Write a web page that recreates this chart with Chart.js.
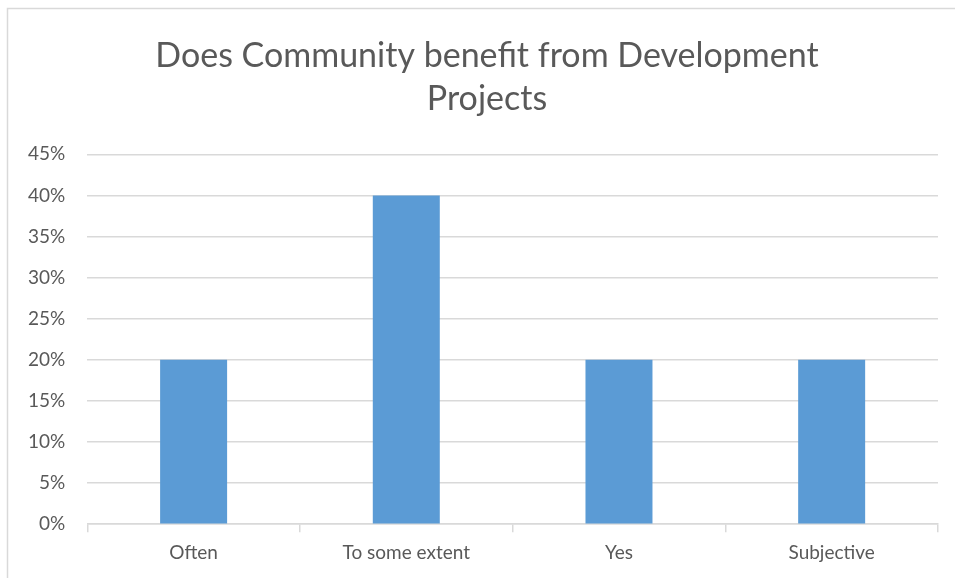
<!DOCTYPE html>
<html>
<head>
<meta charset="utf-8">
<script src="https://cdn.jsdelivr.net/npm/chart.js@4"></script>
<style>
  html, body { margin: 0; padding: 0; background: #fff; }
  #wrap { width: 955px; height: 578px; }
</style>
</head>
<body>
<div id="wrap"><canvas id="myChart" width="955" height="578"></canvas></div>
<script>
const categories = ["Often", "To some extent", "Yes", "Subjective"];
const values = [20, 40, 20, 20];
const titleLines = ["Does Community benefit from Development", "Projects"];
const yMax = 45;
const yStep = 5;

// light grey frame around the chart, like the office chart border
const frame = {
  id: 'frame',
  beforeDraw(chart) {
    const ctx = chart.ctx;
    ctx.save();
    ctx.strokeStyle = '#d9d9d9';
    ctx.lineWidth = 1.5;
    ctx.strokeRect(7.5, 8.5, 1000, 1000);
    ctx.restore();
  },
  // title sits a bit right of the canvas centre in the original
  afterLayout(chart) {
    if (chart.titleBlock) chart.titleBlock.left += 30;
  }
};

Chart.defaults.font.family = 'Lato, "Open Sans", sans-serif';
Chart.defaults.color = '#595959';

new Chart("myChart", {
  type: "bar",
  data: {
    labels: categories,
    datasets: [{
      data: values,
      backgroundColor: "#5b9bd5",
      barPercentage: 0.315,
      categoryPercentage: 1
    }]
  },
  options: {
    responsive: false,
    animation: false,
    layout: { padding: { left: 6, right: 17, top: 14, bottom: 5 } },
    plugins: {
      legend: { display: false },
      tooltip: { enabled: false },
      title: {
        display: true,
        text: titleLines,
        color: '#595959',
        font: { size: 34, weight: 'normal', lineHeight: 1.27 },
        padding: { top: 20, bottom: 34 }
      }
    },
    scales: {
      x: {
        grid: {
          offset: true,
          drawOnChartArea: false,
          drawTicks: true,
          tickLength: 8,
          color: '#d9d9d9',
          lineWidth: 1.5
        },
        border: { display: true, color: '#d9d9d9', width: 1.5 },
        ticks: { font: { size: 19 }, padding: 9, color: '#595959' }
      },
      y: {
        min: 0,
        max: yMax,
        grid: { color: '#d9d9d9', lineWidth: 1.5, drawTicks: false },
        border: { display: false },
        ticks: {
          stepSize: yStep,
          padding: 22,
          font: { size: 19 },
          color: '#595959',
          callback: v => v + '%'
        }
      }
    }
  },
  plugins: [frame]
});
</script>
</body>
</html>
